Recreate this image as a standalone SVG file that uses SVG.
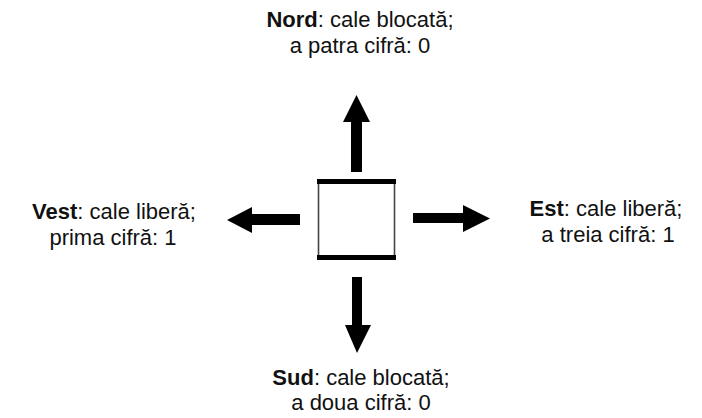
<svg xmlns="http://www.w3.org/2000/svg" width="702" height="418" viewBox="0 0 702 418">
  <style>
    .lbl { font-family: "Liberation Sans", Arial, sans-serif; font-size: 22px; fill: #111; text-anchor: middle; }
    .b { font-weight: bold; }
    .arrow { fill: #000; }
    .side { stroke: #444; stroke-width: 1.6; fill: none; }
    .wall { fill: #000; }
  </style>
  <rect width="702" height="418" fill="#fff"/>

  <!-- central cell -->
  <g id="cell">
    <rect x="318" y="180" width="77" height="79" fill="#fff"/>
    <line class="side" x1="318.5" y1="181" x2="318.5" y2="258"/>
    <line class="side" x1="394.5" y1="181" x2="394.5" y2="258"/>
    <rect class="wall" x="317" y="179" width="79" height="5"/>
    <rect class="wall" x="317" y="255" width="79" height="5"/>
  </g>

  <!-- direction arrows -->
  <g id="connectors">
    <polygon class="arrow" points="351,172 362,172 362,122 370,122 356.5,95 343,122 351,122"/>
    <polygon class="arrow" points="352,277 362,277 362,325 371,325 357,353 345,325 352,325"/>
    <polygon class="arrow" points="300,214 300,225 252,225 252,233 227,220 252,207 252,214"/>
    <polygon class="arrow" points="413,213 413,223 463,223 463,232 490,218.5 463,205 463,213"/>
  </g>

  <g id="nord">
    <text class="lbl" x="360" y="27"><tspan class="b">Nord</tspan>: cale blocată;</text>
    <text class="lbl" x="360" y="53">a patra cifră: 0</text>
  </g>
  <g id="vest">
    <text class="lbl" x="114" y="219"><tspan class="b">Vest</tspan>: cale liberă;</text>
    <text class="lbl" x="113" y="245">prima cifră: 1</text>
  </g>
  <g id="est">
    <text class="lbl" x="606" y="216"><tspan class="b">Est</tspan>: cale liberă;</text>
    <text class="lbl" x="608" y="242">a treia cifră: 1</text>
  </g>
  <g id="sud">
    <text class="lbl" x="361" y="385"><tspan class="b">Sud</tspan>: cale blocată;</text>
    <text class="lbl" x="361" y="410">a doua cifră: 0</text>
  </g>
</svg>
